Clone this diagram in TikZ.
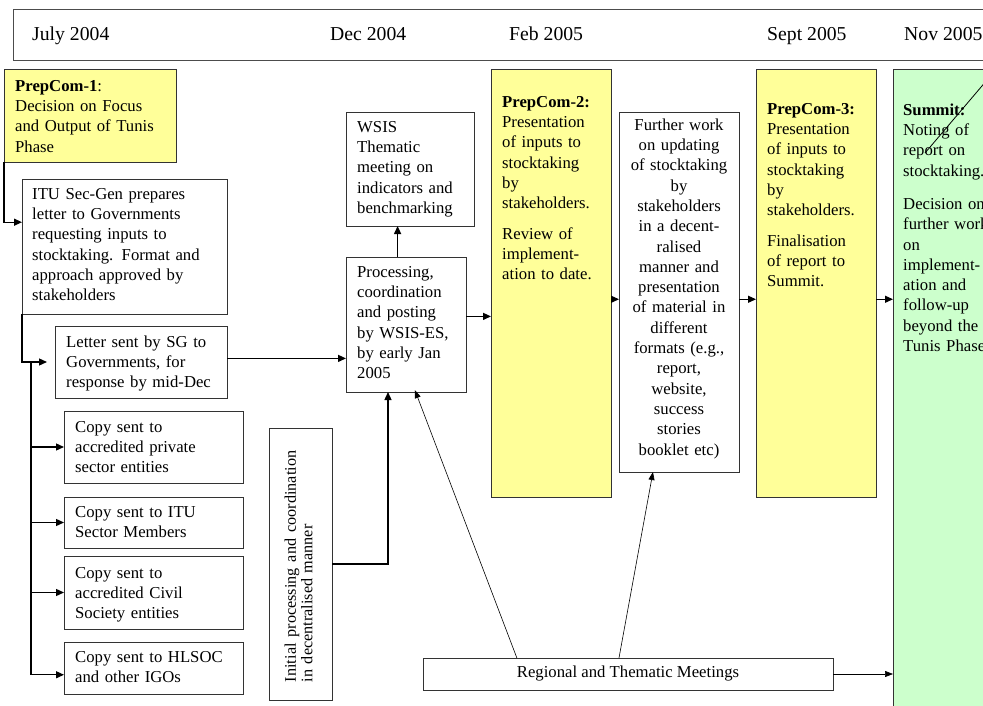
\documentclass[tikz,border=0pt]{standalone}
\usepackage{fontspec}
\setmainfont{Liberation Serif}
\usetikzlibrary{calc,arrows.meta}
\definecolor{yel}{HTML}{FFFF99}
\definecolor{grn}{HTML}{CCFFCC}
\newcommand\bodyfont{\fontsize{16.7}{20.3}\selectfont}
\newcommand\headfont{\fontsize{19.7}{24}\selectfont}
\begin{document}
\begin{tikzpicture}[x=1pt,y=-1pt,
  box/.style={draw=black!80,line width=0.8pt,inner sep=0,outer sep=0,anchor=north west},
  txt/.style={inner sep=0,anchor=north west,align=left,font=\bodyfont,text width=#1,execute at begin node=\strut},
  txt/.default=200pt,
  ctxt/.style={inner sep=0,anchor=north,align=center,font=\bodyfont,text width=#1,execute at begin node=\strut},
  ctxt/.default=120pt,
  hd/.style={inner sep=0,anchor=base west,font=\headfont},
  arr/.style={line width=1.3pt,-{Triangle[length=8pt,width=7pt]}},
  thinarr/.style={line width=0.6pt,-{Triangle[length=8pt,width=6pt]}}
]
\useasboundingbox (0,0) rectangle (983,706);
\clip (0,0) rectangle (983,706);

% header
\node[box,draw=black!70,minimum width=1000pt,minimum height=51pt] (hdr) at (13,9) {};
\node[hd] (h1) at (32,41) {July 2004};
\node[hd] (h2) at (330,41) {Dec 2004};
\node[hd] (h3) at (509,41) {Feb 2005};
\node[hd] (h4) at (767,41) {Sept 2005};
\node[hd] (h5) at (904,41) {Nov 2005};

% boxes
\node[box,fill=yel,minimum width=172pt,minimum height=93pt] (pc1) at (4,69) {};
\node[box,minimum width=205pt,minimum height=135pt] (itu) at (22,179) {};
\node[box,minimum width=172pt,minimum height=72pt] (letter) at (55,326) {};
\node[box,minimum width=179pt,minimum height=72pt] (c1) at (64,411) {};
\node[box,minimum width=179pt,minimum height=51pt] (c2) at (64,497) {};
\node[box,minimum width=179pt,minimum height=73pt] (c3) at (64,556) {};
\node[box,minimum width=179pt,minimum height=52pt] (c4) at (64,642) {};
\node[box,minimum width=63pt,minimum height=272pt] (init) at (269,428) {};
\node[box,minimum width=128pt,minimum height=114pt] (wsis) at (346,112) {};
\node[box,minimum width=120pt,minimum height=135pt] (proc) at (346,257) {};
\node[box,fill=yel,minimum width=120pt,minimum height=428pt] (pc2) at (491,69) {};
\node[box,minimum width=120pt,minimum height=360pt] (fw) at (619,112) {};
\node[box,fill=yel,minimum width=120pt,minimum height=428pt] (pc3) at (756,69) {};
\node[box,fill=grn,minimum width=120pt,minimum height=660pt] (summit) at (893,69) {};
\node[box,minimum width=410pt,minimum height=32pt] (reg) at (423,658) {};

% texts
\node[txt] (pc1t) at (15,91-14.2) {\textbf{PrepCom-1}:\\Decision on Focus\\and Output of Tunis\\Phase};
\node[txt] (itut) at (32,199-14.2) {ITU Sec-Gen prepares\\letter to Governments\\requesting inputs to\\stocktaking. Format and\\approach approved by\\stakeholders};
\node[txt] (lettert) at (66,347-14.2) {Letter sent by SG to\\Governments, for\\response by mid-Dec};
\node[txt] (c1t) at (75,432-14.2) {Copy sent to\\accredited private\\sector entities};
\node[txt] (c2t) at (75,517-14.2) {Copy sent to ITU\\Sector Members};
\node[txt] (c3t) at (75,578-14.2) {Copy sent to\\accredited Civil\\Society entities};
\node[txt] (c4t) at (75,662-14.2) {Copy sent to HLSOC\\and other IGOs};
\node[txt=110pt] (wsist) at (357,132-14.2) {WSIS\\Thematic\\meeting on\\indicators and\\benchmarking};
\node[txt=110pt] (proct) at (357,277-14.2) {Processing,\\coordination\\and posting\\by WSIS-ES,\\by early Jan\\2005};
\node[txt=110pt] (pc2t) at (502,107-14.2) {\textbf{PrepCom-2:}\\Presentation\\of inputs to\\stocktaking\\by\\stakeholders.\\[10pt]Review of\\implement-\\ation to date.};
\node[ctxt] (fwt) at (679,130-14.2) {Further work\\on updating\\of stocktaking\\by\\stakeholders\\in a decent-\\ralised\\manner and\\presentation\\of material in\\different\\formats (e.g.,\\report,\\website,\\success\\stories\\booklet etc)};
\node[txt=110pt] (pc3t) at (767,114-14.2) {\textbf{PrepCom-3:}\\Presentation\\of inputs to\\stocktaking\\by\\stakeholders.\\[10pt]Finalisation\\of report to\\Summit.};
\node[txt=120pt] (summitt) at (903,115-14.2) {\textbf{Summit:}\\Noting of\\report on\\stocktaking.\\[13pt]Decision on\\further work\\on\\implement-\\ation and\\follow-up\\beyond the\\Tunis Phase.};
\node[inner sep=0,font=\bodyfont] (regt) at (reg.center) {Regional and Thematic Meetings};
\node[rotate=90,inner sep=0,align=left,text width=250pt,font=\fontsize{16.2}{16.5}\selectfont] (initt) at ($(init.center)+(-2,-7)$) {Initial\hspace{6pt}processing\hspace{6pt}and\hspace{6pt}coordination\\in decentralised manner};

% connectors
\draw[arr] (pc1.south west) |- ($(itu.north west)!0.32!(itu.south west)$);
\draw[arr,shorten >=8pt] (itu.south west) |- (letter.west);
\coordinate (trunk) at (31,362);
\draw[arr] (trunk) |- (c1.west);
\draw[arr] (trunk) |- (c2.west);
\draw[arr] (trunk) |- (c3.west);
\draw[arr] (trunk) |- ($(c4.north west)!0.63!(c4.south west)$);
\draw[arr] ($(letter.north east)!0.45!(letter.south east)$) coordinate (le) -- (le -| proc.west);
\draw[arr] ($(proc.north west)!0.43!(proc.north east)$) coordinate (pn) -- (pn |- wsis.south);
\draw[arr] ($(proc.north east)!0.44!(proc.south east)$) coordinate (pe) -- (pe -| pc2.west);
\draw[arr] ($(pc2.north east)!0.538!(pc2.south east)$) coordinate (p2e) -- (p2e -| fw.west);
\draw[arr] (p2e -| fw.east) -- (p2e -| pc3.west);
\draw[arr] (p2e -| pc3.east) -- (p2e -| summit.west);
\draw[arr] (init.east) -| ($(proc.south west)!0.35!(proc.south east)$);
\draw[thinarr,shorten >=-2pt] ($(reg.north west)!0.229!(reg.north east)$) -- ($(proc.south west)!0.58!(proc.south east)$);
\draw[thinarr] ($(reg.north west)!0.478!(reg.north east)$) -- ($(fw.south west)!0.283!(fw.south east)$);
\draw[thinarr] (reg.east) -- (reg.east -| summit.west);

% stray diagonal line
\draw[line width=0.8pt] (925,153) -- (1010,53);
\end{tikzpicture}
\end{document}
